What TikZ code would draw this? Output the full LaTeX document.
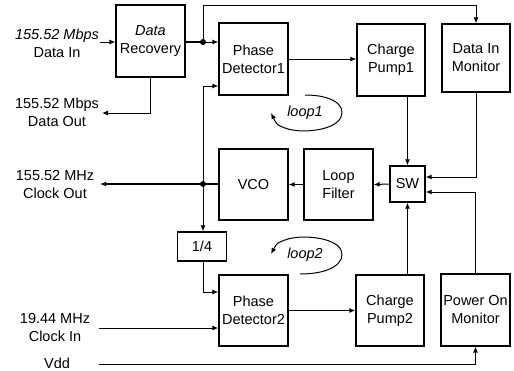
\documentclass[tikz,border=0pt]{standalone}
\usepackage{fontspec}
\setmainfont{Liberation Sans}
\usetikzlibrary{arrows.meta,calc}
\begin{document}
\begin{tikzpicture}[x=1pt,y=-1pt,
  txt/.style={font=\fontsize{14.5}{18}\selectfont, align=center, inner sep=0pt},
  blk/.style={draw, line width=1.3pt, txt},
  wire/.style={line width=1pt},
  fat/.style={line width=1.8pt},
  arr/.style={-{Latex[length=6pt,width=5pt]}},
  dot/.style={circle, fill, inner sep=0pt, minimum size=6pt}
]
\useasboundingbox (0,0) rectangle (514,370);
% blocks
\node[blk, minimum width=69pt, minimum height=72pt] (dr) at (150.5,41) {\textit{Data}\\Recovery};
\node[blk, minimum width=69pt, minimum height=72pt] (pd1) at (253.5,59) {Phase\\Detector1};
\node[blk, minimum width=68pt, minimum height=72pt] (cp1) at (391,60) {Charge\\Pump1};
\node[blk, minimum width=68pt, minimum height=68pt] (dim) at (476,58) {Data In\\Monitor};
\node[blk, minimum width=69pt, minimum height=71pt] (vco) at (253.5,184.5) {VCO};
\node[blk, minimum width=69pt, minimum height=71pt] (lf) at (338.5,184.5) {Loop\\Filter};
\node[blk, minimum width=35pt, minimum height=36pt] (sw) at (407.5,184) {SW};
\node[blk, minimum width=49pt, minimum height=29pt] (div) at (202,246.5) {1/4};
\node[blk, minimum width=69pt, minimum height=71pt] (pd2) at (253.5,310.5) {Phase\\Detector2};
\node[blk, minimum width=68pt, minimum height=71pt] (cp2) at (390,310.5) {Charge\\Pump2};
\node[blk, minimum width=69pt, minimum height=72pt] (pom) at (475.5,310) {Power On\\Monitor};
% labels
\node[txt] (ldin) at (57,43) {\textit{155.52 Mbps}\\Data In};
\node[txt] (ldout) at (57,112) {155.52 Mbps\\Data Out};
\node[txt] (lcout) at (55,185) {155.52 MHz\\Clock Out};
\node[txt] (lcin) at (55,328) {19.44 MHz\\Clock In};
\node[txt] (lvdd) at (57,363) {Vdd};
\node[txt, font=\fontsize{14.5}{18}\selectfont\itshape] (loop1) at (305,113) {loop1};
\node[txt, font=\fontsize{14.5}{18}\selectfont\itshape] (loop2) at (305,255) {loop2};
% coordinates
\coordinate (din) at (100,42);
\coordinate (dout) at (102,113);
\coordinate (cout) at (100,184);
\coordinate (cin) at (99,328);
\coordinate (vdd) at (99,364);
\coordinate (j1) at (203,42);
\coordinate (j2) at (203,184);
\coordinate (tp) at (203,5);
% connectors
\draw[wire,arr] (din) -- (din -| dr.west);
\draw[fat] (j1 -| dr.east) -- (j1);
\draw[wire,arr] (j1) -- (j1 -| pd1.west);
\draw[wire,arr] (j1) -- (tp) -| (dim.north);
\draw[wire,arr] (dr.south) |- (dout);
\draw[wire,arr] (pd1.east) -- (pd1.east -| cp1.west);
\draw[wire,arr] (sw.north |- cp1.south) -- (sw.north);
\draw[wire,arr] (sw.south |- cp2.north) -- (sw.south);
\draw[wire,arr] (dim.south) |- ([yshift=7pt]sw.east);
\draw[wire,arr] (pom.north) |- ([yshift=-8pt]sw.east);
\draw[wire,arr] (sw.west) -- (lf.east);
\draw[wire,arr] (lf.west) -- (vco.east);
\draw[fat,arr] (vco.west |- j2) -- (cout);
\draw[wire,arr] (j2) |- ([yshift=-27pt]pd1.west);
\draw[wire,arr] (j2) -- (j2 |- div.north);
\draw[wire,arr] (j2 |- div.south) |- ([yshift=18.5pt]pd2.west);
\draw[wire,arr] (pd2.east) -- (pd2.east -| cp2.west);
\draw[wire,arr] (cin) -- (cin -| pd2.west);
\draw[wire,arr] (vdd) -| (pom.south);
\node[dot] at (j1) {};
\node[dot] at (j2) {};
% loop arrows
\draw[wire,arr] (305,95) .. controls (332,95) and (346,105) .. (341,117)
  .. controls (335,131) and (300,134) .. (285,128) .. controls (277,125) .. (271,113);
\draw[wire,arr] (300,274) .. controls (332,274) and (346,262) .. (341,250)
  .. controls (335,237) and (300,234) .. (285,240) .. controls (277,243) .. (271,254);
\end{tikzpicture}
\end{document}
